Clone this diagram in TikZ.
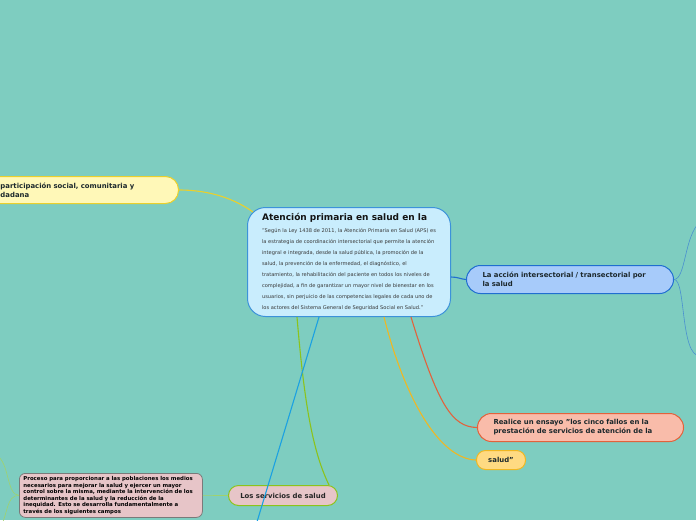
\documentclass[tikz,border=0pt]{standalone}
\usepackage{fontspec}
\setmainfont{DejaVu Sans}
\usetikzlibrary{calc}

\definecolor{fondo}{RGB}{126,205,192}
\definecolor{centrofill}{RGB}{201,237,253}
\definecolor{centrodraw}{RGB}{60,146,218}
\definecolor{amarillofill}{RGB}{255,248,184}
\definecolor{amarillodraw}{RGB}{234,208,44}
\definecolor{azulfill}{RGB}{167,203,250}
\definecolor{azuldraw}{RGB}{32,110,208}
\definecolor{azulrama}{RGB}{74,144,208}
\definecolor{salmonfill}{RGB}{249,188,170}
\definecolor{salmondraw}{RGB}{226,98,60}
\definecolor{naranjafill}{RGB}{255,218,130}
\definecolor{naranjadraw}{RGB}{240,183,34}
\definecolor{rosafill}{RGB}{231,197,200}
\definecolor{verde}{RGB}{140,195,28}
\definecolor{verdeclaro}{RGB}{160,210,110}
\definecolor{cian}{RGB}{27,161,226}
\definecolor{gris}{RGB}{122,122,122}
\definecolor{tinta}{RGB}{28,40,44}

\begin{document}
\begin{tikzpicture}[
        x=1pt, y=-1pt,
        %
        % Boxes of the mind map
        tema/.style={draw, line width=1pt, anchor=north west, align=left,
            inner ysep=0pt, text=tinta},
        rotulo/.style={font=\fontsize{6.9}{9}\selectfont\bfseries},
        rama/.style={line width=1.1pt},
        ramita/.style={line width=0.6pt}
    ]

        % Define the canvas
        \def\ancho{696}
        \def\alto{520}

        \useasboundingbox (0,0) rectangle (\ancho,\alto);
        \fill[fondo] (0,0) rectangle (\ancho,\alto);
        \clip (0,0) rectangle (\ancho,\alto);

        % Draw the central topic
        \node[tema, draw=centrodraw, fill=centrofill, rounded corners=18pt,
            minimum height=109pt, minimum width=203pt, inner xsep=14pt,
            font=\fontsize{5.1}{10.9}\selectfont, text=black!78]
            (centro) at (247,207)
            {{\fontsize{9}{10.9}\selectfont\bfseries\color{black!92}Atención primaria en salud en la}\\[1pt]
             "Según la Ley 1438 de 2011, la Atención Primaria en Salud (APS) es\\
             la estrategia de coordinación intersectorial que permite la atención\\
             integral e integrada, desde la salud pública, la promoción de la\\
             salud, la prevención de la enfermedad, el diagnóstico, el\\
             tratamiento, la rehabilitación del paciente en todos los niveles de\\
             complejidad, a fin de garantizar un mayor nivel de bienestar en los\\
             usuarios, sin perjuicio de las competencias legales de cada uno de\\
             los actores del Sistema General de Seguridad Social en Salud."};

        % Draw the left yellow topic (cut by the edge)
        \node[tema, rotulo, draw=amarillodraw, fill=amarillofill, rounded corners=13pt,
            minimum height=27pt, text width=134pt, inner xsep=44pt]
            (participa) at (-44,176)
            {participación social, comunitaria y\\ dadana};

        % Draw the right blue topic
        \node[tema, rotulo, draw=azuldraw, fill=azulfill, rounded corners=14pt,
            minimum height=28pt, text width=175pt, inner xsep=16pt]
            (accion) at (466,265)
            {La acción intersectorial / transectorial por\\ la salud};

        % Draw the salmon topic
        \node[tema, rotulo, draw=salmondraw, fill=salmonfill, rounded corners=14pt,
            minimum height=28pt, text width=174pt, inner xsep=16pt]
            (ensayo) at (477,413)
            {Realice un ensayo "los cinco fallos en la\\ prestación de servicios de atención de la};

        % Draw the small orange topic
        \node[tema, rotulo, draw=naranjadraw, fill=naranjafill, rounded corners=9pt,
            minimum height=19pt, minimum width=49pt, align=center, inner xsep=0pt]
            (saludq) at (476,450) {salud"};

        % Draw the health services topic
        \node[tema, rotulo, draw=verde, fill=rosafill, rounded corners=10pt,
            minimum height=20pt, minimum width=109pt, align=center, inner xsep=0pt,
            text=black!85]
            (servicios) at (228,485) {Los servicios de salud};

        % Draw the process topic
        \node[tema, draw=gris, fill=rosafill, rounded corners=6pt, line width=0.8pt,
            minimum height=44pt, text width=175pt, inner xsep=4pt,
            font=\fontsize{5.4}{6.5}\selectfont\bfseries, text=black]
            (proceso) at (19,473)
            {Proceso para proporcionar a las poblaciones los medios\\
             necesarios para mejorar la salud y ejercer un mayor\\
             control sobre la misma, mediante la intervención de los\\
             determinantes de la salud y la reducción de la\\
             inequidad. Esto se desarrolla fundamentalmente a\\
             través de los siguientes campos};

        % Free ends that leave the canvas
        \coordinate (fueraabajo) at (250,545);
        \coordinate (fuerarriba) at (700,222);
        \coordinate (fuerabajo)  at (700,356);
        \coordinate (izqarriba)  at (-4,455);
        \coordinate (izqabajo)   at (0,528);

        % Draw the connectors from the central topic
        \draw[rama, amarillodraw]
            (participa.east) .. controls (212,190) and (236,200) ..
            ([shift={(6,5)}]centro.north west);
        \draw[rama, azuldraw]
            ([yshift=-15pt]centro.east) .. controls (458,277) and (460,279) ..
            (accion.west);
        \draw[rama, salmondraw]
            ([xshift=62pt]centro.south) .. controls (438,405) and (452,427) ..
            (ensayo.west);
        \draw[rama, naranjadraw]
            ([xshift=35pt]centro.south) .. controls (405,400) and (440,459) ..
            (saludq.west);
        \draw[rama, verde]
            ([xshift=-52pt]centro.south) .. controls (304,400) and (312,450) ..
            ([xshift=-9pt]servicios.north east);
        \draw[rama, cian]
            ([xshift=-30pt]centro.south) -- (fueraabajo);

        % Draw the thin branches of the right topic
        \draw[ramita, azulrama]
            (accion.east) .. controls (686,279) and (684,236) .. (fuerarriba);
        \draw[ramita, azulrama]
            (accion.east) .. controls (686,279) and (680,356) .. (fuerabajo);

        % Draw the branches of the health services topic
        \draw[ramita, verdeclaro] (servicios.west) -- (proceso.east);
        \draw[ramita, verdeclaro]
            (proceso.west) .. controls (6,495) and (10,462) .. (izqarriba);
        \draw[ramita, verdeclaro]
            (proceso.west) .. controls (6,495) and (8,515) .. (izqabajo);

\end{tikzpicture}
\end{document}
